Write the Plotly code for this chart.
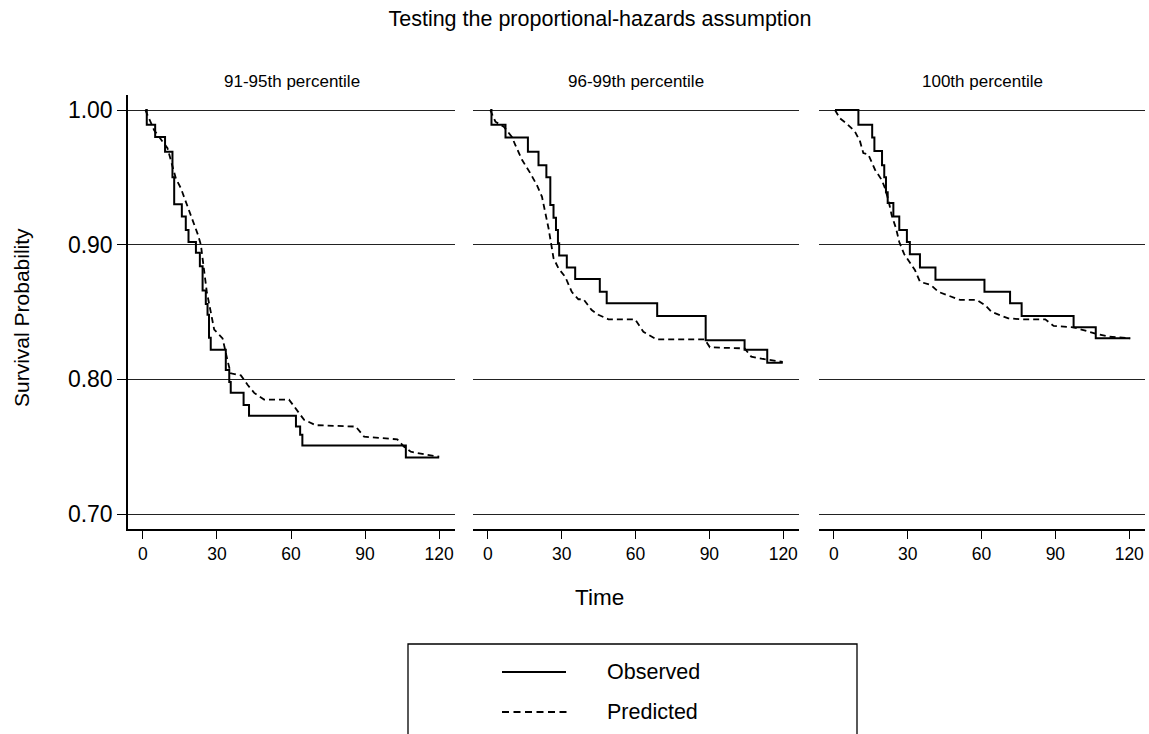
import plotly.graph_objects as go

# ---------------- data ----------------
panel_titles = ["91-95th percentile", "96-99th percentile", "100th percentile"]
x_ticks = [0, 30, 60, 90, 120]
y_ticks = [0.70, 0.80, 0.90, 1.00]
y_tick_labels = ["0.70", "0.80", "0.90", "1.00"]

# Panel 1: 91-95th percentile
obs1_t = [1, 1.6, 5.0, 9.0, 12.0, 12.7, 15.8, 17.4, 18.5, 21.5, 23.1, 24.2, 25.5, 26.2, 26.8,
          27.5, 33.6, 35.0, 35.6, 40.8, 43.0, 62.0, 63.7, 64.6, 106.5, 120]
obs1_s = [1.0, 0.989, 0.980, 0.969, 0.950, 0.930, 0.921, 0.911, 0.902, 0.894, 0.884, 0.866, 0.856, 0.848, 0.831,
          0.822, 0.807, 0.798, 0.790, 0.781, 0.773, 0.765, 0.759, 0.751, 0.742, 0.742]
pred1_t = [1, 4.6, 10.0, 13.4, 15.4, 17.4, 18.8, 20.8, 22.4, 23.5, 24.6, 25.9, 28.9, 32.3, 34.3, 35.6,
           39.7, 42.4, 45.1, 49.1, 59.2, 62.0, 65.3, 70.0, 86.2, 89.6, 103.0, 105.8, 108.5, 115.3, 120]
pred1_s = [1.0, 0.985, 0.9716, 0.949, 0.942, 0.932, 0.9245, 0.916, 0.907, 0.900, 0.8825, 0.865, 0.837, 0.8305,
           0.814, 0.8045, 0.803, 0.796, 0.790, 0.785, 0.785, 0.7785, 0.770, 0.766, 0.765, 0.7575, 0.7555,
           0.750, 0.7463, 0.744, 0.7426]

# Panel 2: 96-99th percentile
obs2_t = [1, 1.5, 7.2, 16.3, 20.6, 23.8, 25.4, 26.7, 27.7, 28.5, 29.0, 32.1, 35.5, 45.5, 48.3, 68.8,
          88.5, 104.3, 113.5, 119.8]
obs2_s = [1.0, 0.989, 0.9795, 0.969, 0.959, 0.950, 0.9295, 0.920, 0.911, 0.901, 0.892, 0.883, 0.8745, 0.865,
          0.8565, 0.847, 0.829, 0.822, 0.8124, 0.8124]
pred2_t = [1, 3.1, 6.5, 9.8, 11.2, 13.9, 17.3, 20.0, 22.0, 23.6, 24.7, 25.8, 26.7, 28.7, 31.5, 34.1, 36.8,
           38.9, 42.2, 44.9, 49.0, 59.8, 63.2, 68.5, 88.1, 90.2, 104.3, 107.0, 112.4, 119.8]
pred2_s = [1.0, 0.9913, 0.9876, 0.980, 0.974, 0.963, 0.953, 0.944, 0.9357, 0.923, 0.912, 0.900, 0.890, 0.8825,
           0.876, 0.865, 0.8595, 0.8595, 0.8515, 0.848, 0.8446, 0.8446, 0.8354, 0.8297, 0.8297, 0.8238,
           0.823, 0.8169, 0.815, 0.813]

# Panel 3: 100th percentile
obs3_t = [0.5, 10.0, 15.6, 16.5, 19.6, 20.5, 21.2, 21.9, 24.2, 26.6, 29.7, 30.9, 35.0, 41.3, 61.2, 71.6,
          76.3, 97.4, 106.4, 120.4]
obs3_s = [1.0, 0.989, 0.9795, 0.9696, 0.959, 0.950, 0.939, 0.931, 0.921, 0.911, 0.902, 0.893, 0.883, 0.874,
          0.865, 0.8565, 0.847, 0.8387, 0.8305, 0.8305]
pred3_t = [0.5, 2.5, 5.2, 8.6, 10.7, 12.0, 14.0, 15.4, 16.8, 19.5, 20.8, 22.2, 23.5, 25.3, 26.6, 28.6, 33.0,
           35.0, 39.5, 42.5, 47.9, 51.3, 58.1, 61.5, 64.2, 66.9, 70.9, 76.3, 85.9, 89.3, 97.4, 106.3,
           111.7, 120.4]
pred3_s = [1.0, 0.9938, 0.990, 0.984, 0.9765, 0.968, 0.967, 0.9616, 0.9555, 0.948, 0.942, 0.933, 0.922, 0.912,
           0.902, 0.893, 0.881, 0.8725, 0.870, 0.865, 0.861, 0.859, 0.859, 0.855, 0.850, 0.848, 0.8453,
           0.8446, 0.8446, 0.8397, 0.8387, 0.834, 0.8317, 0.8305]

observed = [(obs1_t, obs1_s), (obs2_t, obs2_s), (obs3_t, obs3_s)]
predicted = [(pred1_t, pred1_s), (pred2_t, pred2_s), (pred3_t, pred3_s)]

# ---------------- layout helpers ----------------
W, H = 1149, 734
FONT = "Liberation Sans, Arial, Helvetica, sans-serif"
x_domains = [(128, 455), (473, 799), (819, 1145)]
y_top_px, y_bot_px = 95, 529
x_range = [-6.0, 126.4]
y_range = [0.68894, 1.01114]

def px_x(p):
    return p / W

def px_y(p):
    return (H - p) / H

fig = go.Figure()

for i in range(3):
    ax = "" if i == 0 else str(i + 1)
    t, s = observed[i]
    fig.add_trace(go.Scatter(x=t, y=s, mode="lines", line=dict(color="black", width=2, shape="hv"),
                             name="Observed", showlegend=False,
                             xaxis="x" + ax, yaxis="y" + ax))
    t, s = predicted[i]
    fig.add_trace(go.Scatter(x=t, y=s, mode="lines", line=dict(color="black", width=1.8, dash="6px,4px"),
                             name="Predicted", showlegend=False,
                             xaxis="x" + ax, yaxis="y" + ax))

layout = dict(
    width=W, height=H,
    margin=dict(l=0, r=0, t=0, b=0),
    paper_bgcolor="white", plot_bgcolor="white",
    font=dict(family=FONT, color="black"),
    title=dict(text="Testing the proportional-hazards assumption", x=600 / W, xanchor="center",
               y=px_y(18), yanchor="middle", font=dict(size=21.5, family=FONT, color="black")),
    showlegend=False,
)

for i in range(3):
    key = "" if i == 0 else str(i + 1)
    x0, x1 = x_domains[i]
    layout["xaxis" + key] = dict(
        domain=[px_x(x0), px_x(x1)], range=x_range, anchor="y" + key,
        tickvals=x_ticks, ticks="outside", ticklen=8, tickwidth=1.2, tickcolor="black",
        showline=True, linecolor="black", linewidth=1.5, showgrid=False, zeroline=False,
        tickfont=dict(size=17.5, family=FONT, color="black"), fixedrange=True,
    )
    ydict = dict(
        domain=[px_y(y_bot_px), px_y(y_top_px)], range=y_range, anchor="x" + key,
        tickvals=y_ticks, showgrid=True, gridcolor="#222222", gridwidth=1.2, zeroline=False,
        fixedrange=True,
    )
    if i == 0:
        ydict.update(ticktext=y_tick_labels, ticks="outside", ticklen=9, tickwidth=1.2, tickcolor="black",
                     showline=True, linecolor="black", linewidth=1.5,
                     tickfont=dict(size=23, family=FONT, color="black"))
    else:
        ydict.update(showticklabels=False, ticks="", showline=False)
    layout["yaxis" + key] = ydict

fig.update_layout(**layout)

# panel titles
for i in range(3):
    x0, x1 = x_domains[i]
    fig.add_annotation(text=panel_titles[i], xref="paper", yref="paper", x=px_x((x0 + x1) / 2),
                       y=px_y(82), xanchor="center", yanchor="middle", showarrow=False,
                       font=dict(size=17, family=FONT, color="black"))

# axis titles
fig.add_annotation(text="Time", xref="paper", yref="paper", x=px_x(599), y=px_y(597),
                   xanchor="center", yanchor="middle", showarrow=False,
                   font=dict(size=22.5, family=FONT, color="black"))
fig.add_annotation(text="Survival Probability", xref="paper", yref="paper", x=px_x(22), y=px_y(318),
                   xanchor="center", yanchor="middle", showarrow=False, textangle=-90,
                   font=dict(size=21, family=FONT, color="black"))

# legend (box + samples + labels)
fig.add_shape(type="rect", xref="paper", yref="paper", x0=px_x(408), x1=px_x(857),
              y0=px_y(760), y1=px_y(644), line=dict(color="black", width=1.3), fillcolor="rgba(0,0,0,0)")
fig.add_shape(type="line", xref="paper", yref="paper", x0=px_x(502), x1=px_x(566),
              y0=px_y(672), y1=px_y(672), line=dict(color="black", width=2))
fig.add_shape(type="line", xref="paper", yref="paper", x0=px_x(502), x1=px_x(568),
              y0=px_y(712), y1=px_y(712), line=dict(color="black", width=2, dash="7px,4.5px"))
fig.add_annotation(text="Observed", xref="paper", yref="paper", x=px_x(605), y=px_y(672),
                   xanchor="left", yanchor="middle", showarrow=False,
                   font=dict(size=21.5, family=FONT, color="black"))
fig.add_annotation(text="Predicted", xref="paper", yref="paper", x=px_x(605), y=px_y(712),
                   xanchor="left", yanchor="middle", showarrow=False,
                   font=dict(size=21.5, family=FONT, color="black"))

fig.write_html("out.html")
